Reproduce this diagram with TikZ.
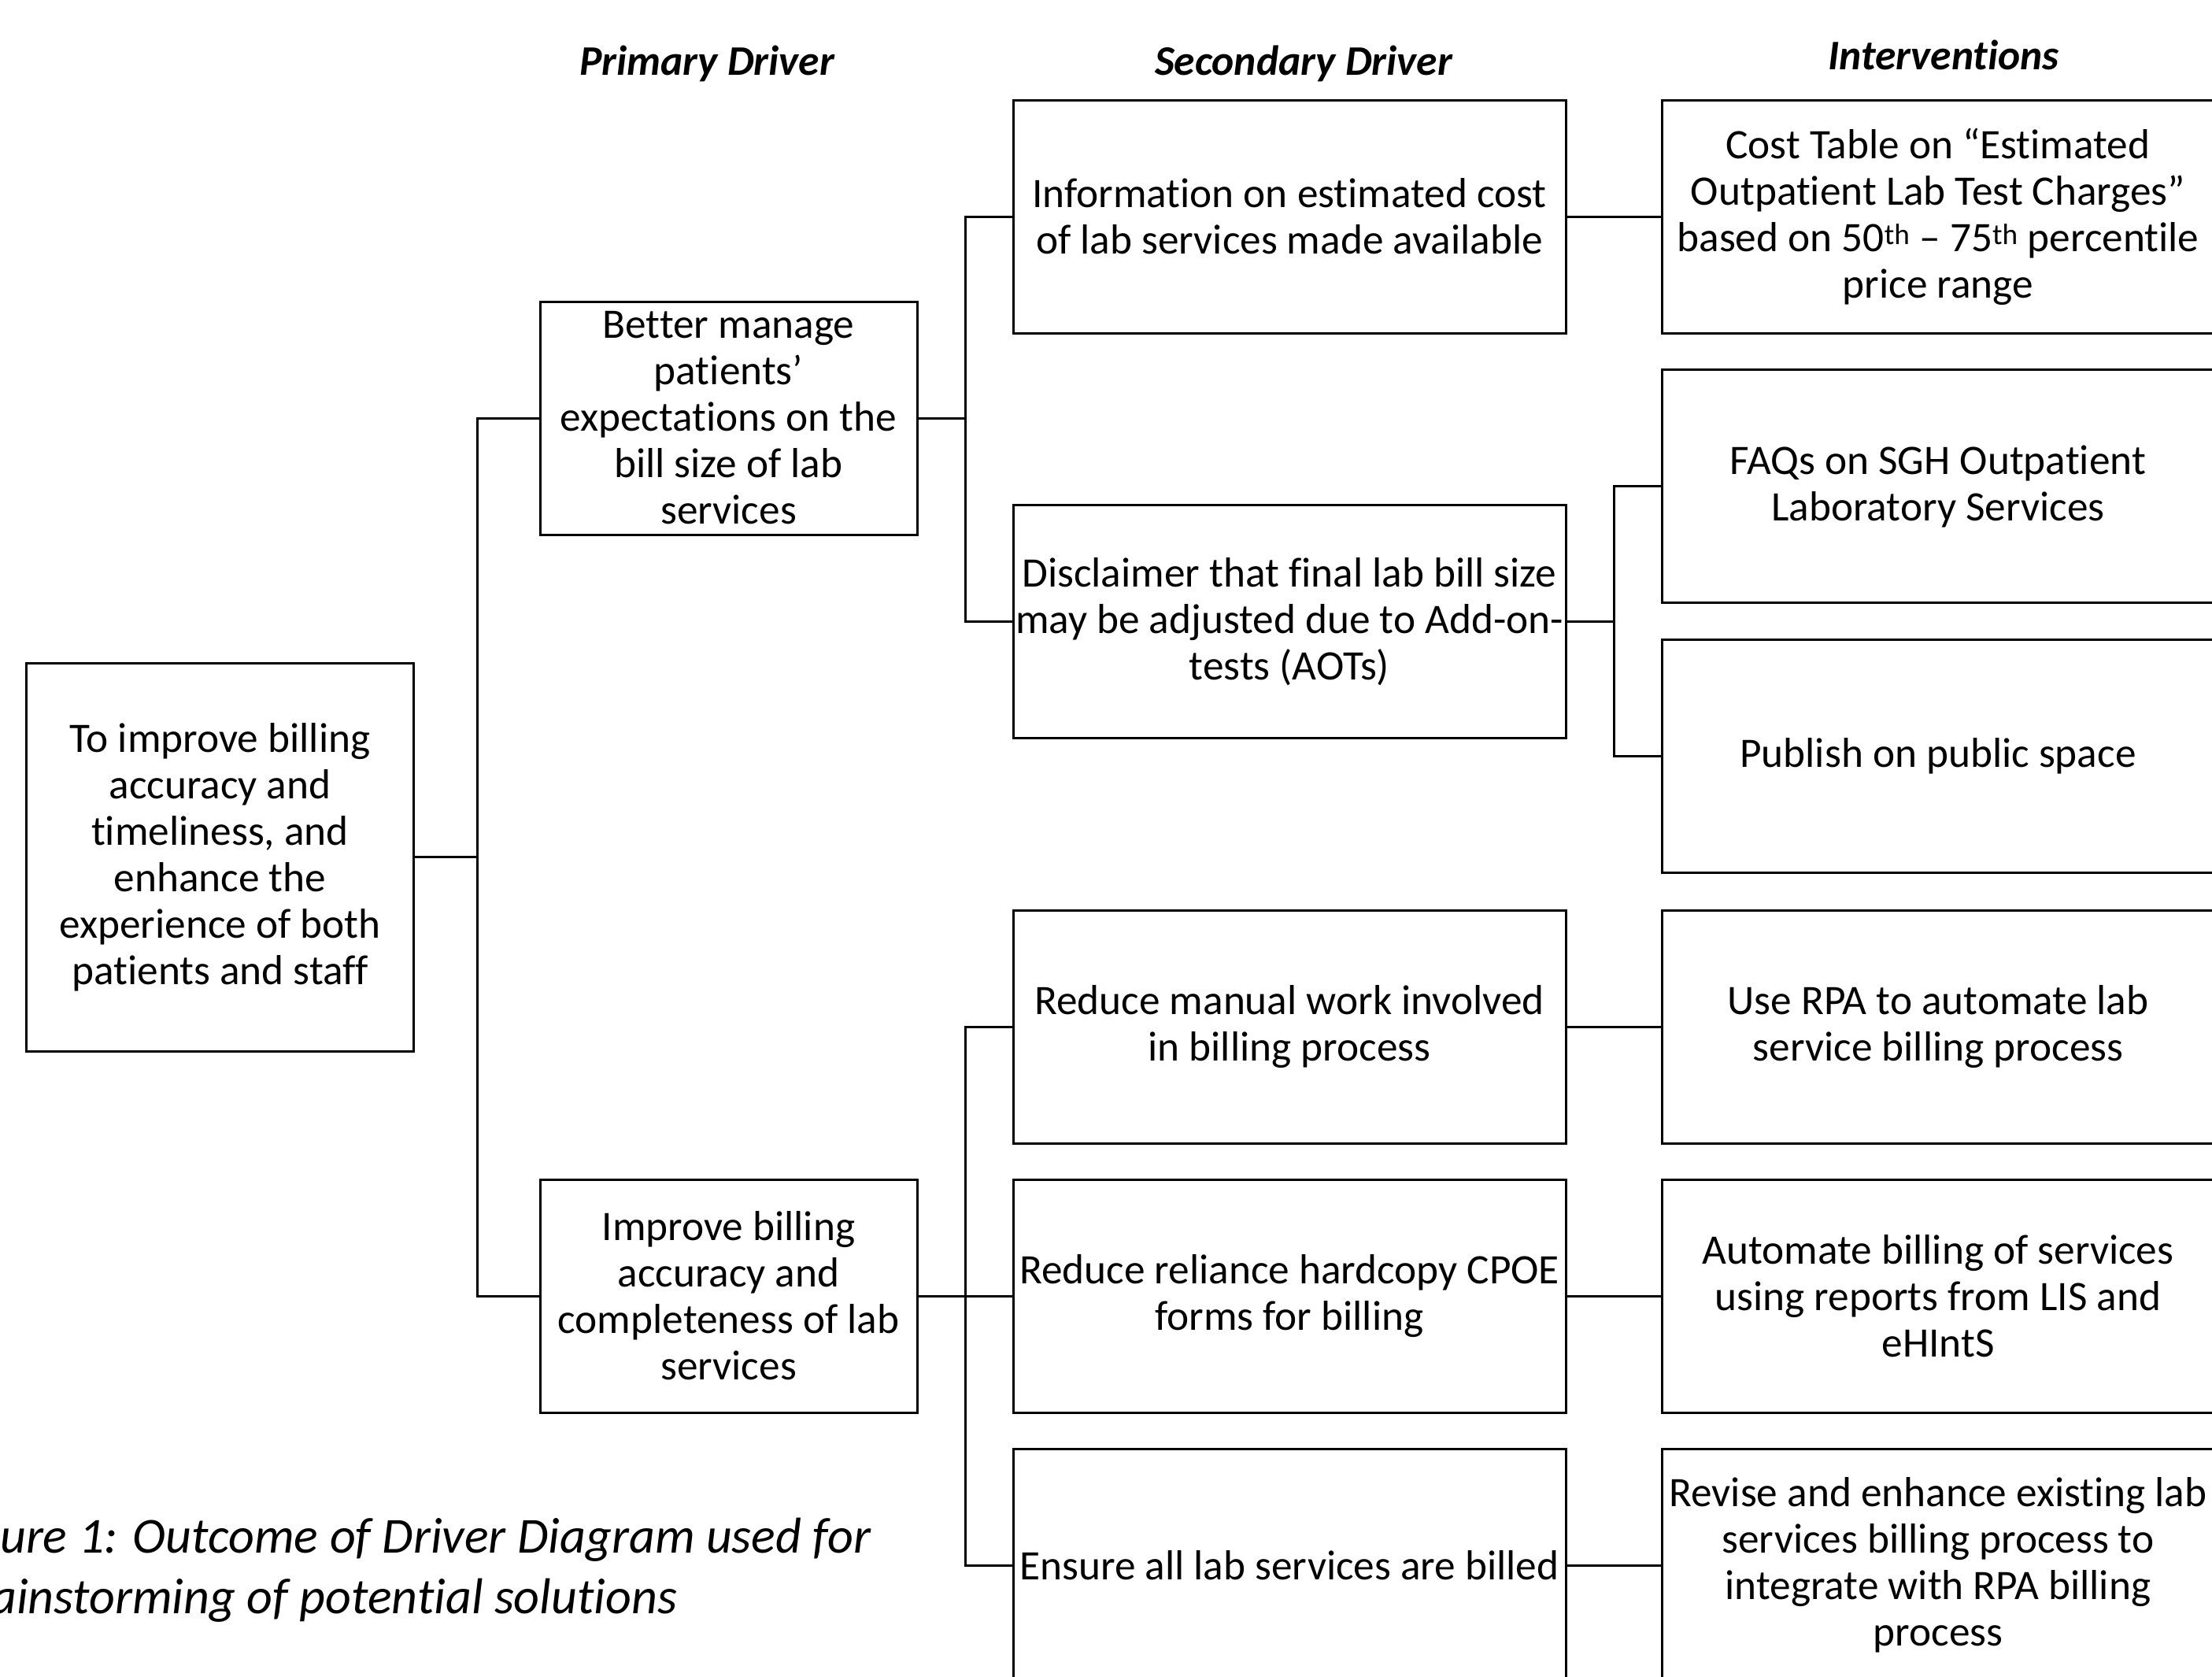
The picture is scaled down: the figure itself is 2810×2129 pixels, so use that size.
\documentclass[tikz,border=0pt]{standalone}
\usepackage{fontspec}
\setmainfont{Carlito}[Ligatures=NoCommon]
\begin{document}
\begin{tikzpicture}[x=1bp,y=-1bp,
  box/.style={draw=black,line width=3bp,rectangle,inner sep=0pt,align=center,
    font=\fontsize{53.3bp}{59bp}\selectfont},
  gbox/.style={box,minimum width=491bp,minimum height=493bp},
  pbox/.style={box,minimum width=479bp,minimum height=296bp},
  sbox/.style={box,minimum width=702bp,minimum height=296bp},
  head/.style={anchor=base,inner sep=0pt,font=\fontsize{53.5bp}{60bp}\selectfont\bfseries\itshape},
  capt/.style={anchor=base west,inner sep=0pt,font=\fontsize{64bp}{77bp}\selectfont\itshape},
  link/.style={line width=3bp,line cap=rect}]
\useasboundingbox (0,0) rectangle (2810,2129);
\fill[white] (0,0) rectangle (2810,2129);

% headers
\node[head] (hp) at (898,95) {Primary Driver};
\node[head] (hs) at (1656,95) {Secondary Driver};
\node[head] (hi) at (2469,88) {Interventions};

% goal
\node[gbox] (goal) at (279.5,1088.5) {To improve billing\\accuracy and\\timeliness, and\\enhance the\\experience of both\\patients and staff};

% primary drivers
\node[pbox] (p1) at (925.5,531) {Better manage\\patients’\\expectations on the\\bill size of lab\\services};
\node[pbox] (p2) at (925.5,1646) {Improve billing\\accuracy and\\completeness of lab\\services};

% secondary drivers
\node[sbox] (s1) at (1638,275) {Information on estimated cost\\of lab services made available};
\node[sbox] (s2) at (1638,789.5) {Disclaimer that final lab bill size\\may be adjusted due to Add-on-\\tests (AOTs)};
\node[sbox] (s3) at (1638,1304) {Reduce manual work involved\\in billing process};
\node[sbox] (s4) at (1638,1646) {Reduce reliance hardcopy CPOE\\forms for billing};
\node[sbox] (s5) at (1638,1988) {Ensure all lab services are billed};

% interventions
\node[sbox] (i1) at (2462,275) {Cost Table on “Estimated\\Outpatient Lab Test Charges”\\based on 50\textsuperscript{th} – 75\textsuperscript{th} percentile\\price range};
\node[sbox] (i2) at (2462,617.5) {FAQs on SGH Outpatient\\Laboratory Services};
\node[sbox] (i3) at (2462,960) {Publish on public space};
\node[sbox] (i4) at (2462,1304) {Use RPA to automate lab\\service billing process};
\node[sbox] (i5) at (2462,1646) {Automate billing of services\\using reports from LIS and\\eHIntS};
\node[sbox] (i6) at (2462,1988) {Revise and enhance existing lab\\services billing process to\\integrate with RPA billing\\process};

% caption (cut at the left edge, as in the reference)
\node[capt] (c1) at (0,1972) {\llap{Fig}ure 1: Outcome of Driver Diagram used for};
\node[capt] (c2) at (-12,2049) {\llap{br}ainstorming of potential solutions};

% connectors
\coordinate (t) at (606,1088.5);
\draw[link] (goal.east) -- (t);
\draw[link] (p1.west) -| (t) |- (p2.west);

\coordinate (b1) at (1226,531);
\draw[link] (p1.east) -- (b1);
\draw[link] (s1.west) -| (b1) |- (s2.west);

\coordinate (b2) at (1226,1646);
\draw[link] (p2.east) -- (s4.west);
\draw[link] (s3.west) -| (b2) |- (s5.west);

\draw[link] (s1.east) -- (i1.west);
\coordinate (b3) at (2050,789.5);
\draw[link] (s2.east) -- (b3);
\draw[link] (i2.west) -| (b3) |- (i3.west);
\draw[link] (s3.east) -- (i4.west);
\draw[link] (s4.east) -- (i5.west);
\draw[link] (s5.east) -- (i6.west);
\end{tikzpicture}
\end{document}
